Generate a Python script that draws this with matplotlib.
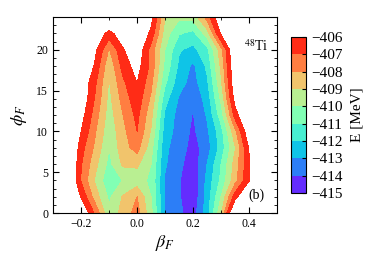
import matplotlib
matplotlib.use("Agg")
import matplotlib.pyplot as plt
import numpy as np
from matplotlib.ticker import MultipleLocator

plt.rcParams['font.family'] = 'serif'
plt.rcParams['font.serif'] = ['Liberation Serif', 'DejaVu Serif']
plt.rcParams['mathtext.fontset'] = 'stix'

# deformation grid
beta = [-0.30, -0.25, -0.20, -0.15, -0.10, -0.05, 0.00, 0.05, 0.10,
        0.15, 0.20, 0.25, 0.30, 0.35, 0.40, 0.45, 0.50]
phi = [0, 2, 4, 6, 8, 10, 12, 14, 16, 18, 20, 22, 24]

# total energy E [MeV], one row per phi value
energy = [
    [-403, -403.5, -404.5, -407.2, -409.8, -408.6, -407.6, -409.7, -413.1, -413.8, -414.5, -412.5, -409.2, -404.0, -403.0, -402.5, -402.0],
    [-403, -404.0, -406.1, -408.5, -410.2, -408.9, -408.0, -410.0, -413.1, -413.9, -414.8, -412.6, -410.0, -406.5, -404.0, -403.0, -402.5],
    [-403, -404.0, -407.1, -409.1, -410.8, -409.95, -409.6, -410.2, -413.1, -413.9, -414.95, -412.7, -410.8, -408.4, -406.1, -403.0, -402.5],
    [-403, -404.0, -406.9, -408.7, -410.3, -408.8, -408.8, -410.0, -412.9, -413.7, -414.7, -413.0, -411.0, -408.6, -406.2, -403.0, -402.5],
    [-403, -403.8, -406.6, -408.2, -410.0, -408.4, -407.6, -409.6, -412.8, -413.5, -414.4, -413.5, -411.6, -409.1, -405.9, -403.0, -402.5],
    [-403, -403.5, -406.0, -407.9, -409.7, -408.3, -407.0, -409.1, -412.5, -413.4, -414.2, -413.2, -411.4, -408.3, -405.0, -403.0, -402.5],
    [-403, -403.5, -405.5, -407.5, -409.5, -408.0, -406.7, -408.7, -412.2, -413.4, -414.05, -412.9, -410.5, -406.6, -404.0, -403.0, -402.5],
    [-403, -403.5, -405.0, -407.1, -409.3, -407.6, -406.35, -408.2, -411.6, -413.1, -413.8, -412.6, -409.8, -405.5, -403.5, -403.0, -402.5],
    [-403, -403.5, -405.0, -406.8, -409.1, -407.2, -405.98, -407.7, -410.8, -412.6, -413.4, -412.2, -409.2, -405.0, -403.5, -403.0, -402.5],
    [-403, -403.5, -404.0, -406.2, -408.8, -406.6, -405.5, -407.3, -410.3, -412.2, -413.2, -411.8, -408.8, -404.8, -403.5, -403.0, -402.5],
    [-403, -403.0, -403.5, -405.7, -408.1, -406.1, -405.0, -407.4, -410.0, -411.9, -412.3, -411.3, -408.4, -404.5, -403.0, -403.0, -402.5],
    [-403, -403.0, -403.0, -405.0, -406.4, -405.2, -404.5, -406.3, -409.5, -410.9, -411.3, -409.5, -405.8, -403.5, -403.0, -403.0, -402.5],
    [-403, -403.0, -402.5, -403.5, -404.0, -404.5, -404.0, -405.5, -409.0, -409.8, -409.6, -407.6, -404.8, -403.0, -403.0, -403.0, -402.5],
]

levels = [-415, -414, -413, -412, -411, -410, -409, -408, -407, -406]
cbar_ticks = [-406, -407, -408, -409, -410, -411, -412, -413, -414, -415]

fig = plt.figure(figsize=(3.82, 2.67), dpi=100)
ax = fig.add_axes([0.139, 0.202, 0.586, 0.734])
cax = fig.add_axes([0.762, 0.277, 0.039, 0.584])

B, P = np.meshgrid(beta, phi)
cs = ax.contourf(B, P, np.array(energy), levels=levels, cmap='rainbow')

ax.set_xlim(-0.3, 0.5)
ax.set_ylim(0, 24)
ax.xaxis.set_major_locator(MultipleLocator(0.2))
ax.xaxis.set_minor_locator(MultipleLocator(0.1))
ax.yaxis.set_major_locator(MultipleLocator(5))
ax.yaxis.set_minor_locator(MultipleLocator(1))
ax.tick_params(which='both', direction='in', top=True, right=True, labelsize=8.5)
ax.tick_params(which='major', length=4)
ax.tick_params(which='minor', length=2.5)
ax.set_xlabel(r'$\beta_F$', fontsize=13, labelpad=2)
ax.set_ylabel(r'$\phi_F$', fontsize=13, labelpad=5)

ax.text(0.425, 20.5, r'$^{48}$Ti', fontsize=10, ha='center', va='center')
ax.text(0.425, 2.2, '(b)', fontsize=10, ha='center', va='center')

cb = fig.colorbar(cs, cax=cax)
cb.set_ticks(cbar_ticks)
cb.ax.tick_params(direction='in', length=3, labelsize=11)
cb.set_label('E [MeV]', fontsize=11, labelpad=6)

fig.savefig('out.png', dpi=100)
